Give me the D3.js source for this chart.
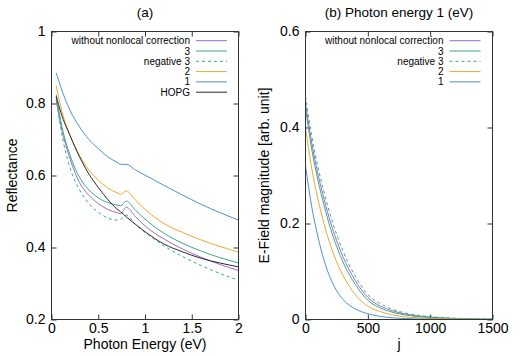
<!DOCTYPE html>
<html>
<head>
<meta charset="utf-8">
<script src="https://cdn.jsdelivr.net/npm/d3@7"></script>
<style>
  body { margin: 0; background: #fff; }
  svg { font-family: "Liberation Sans", Arial, Helvetica, sans-serif; }
  .tick text { font-size: 14px; fill: #000; }
  .tick line { stroke: #333; }
  .axis-label { font-size: 14px; fill: #000; }
  .title { font-size: 13.5px; fill: #000; }
  .legend text { font-size: 10px; fill: #000; }
</style>
</head>
<body>
<svg width="521" height="356"></svg>
<script>
// panel (a): reflectance vs photon energy
const energy = [0.05, 0.1, 0.2, 0.3, 0.4, 0.5, 0.6, 0.7, 0.74, 0.8, 0.9, 1.0, 1.2, 1.4, 1.6, 1.8, 2.0];
const reflWithout = [0.81, 0.74, 0.645, 0.58, 0.545, 0.522, 0.506, 0.497, 0.494, 0.512, 0.485, 0.46, 0.424, 0.396, 0.373, 0.353, 0.336];
const reflPos3 = [0.825, 0.75, 0.655, 0.595, 0.56, 0.538, 0.525, 0.518, 0.516, 0.529, 0.503, 0.479, 0.44, 0.412, 0.39, 0.372, 0.357];
const reflNeg3 = [0.818, 0.73, 0.62, 0.56, 0.522, 0.498, 0.482, 0.476, 0.478, 0.49, 0.463, 0.442, 0.405, 0.375, 0.35, 0.328, 0.309];
const refl2 = [0.85, 0.79, 0.71, 0.655, 0.615, 0.587, 0.566, 0.552, 0.548, 0.557, 0.531, 0.506, 0.467, 0.442, 0.421, 0.403, 0.387];
const refl1 = [0.885, 0.845, 0.78, 0.735, 0.70, 0.675, 0.652, 0.637, 0.631, 0.631, 0.615, 0.601, 0.573, 0.546, 0.52, 0.497, 0.476];
const reflHOPG = [0.82, 0.775, 0.71, 0.652, 0.604, 0.567, 0.534, 0.507, 0.499, 0.485, 0.464, 0.444, 0.41, 0.388, 0.37, 0.357, 0.346];

// panel (b): field magnitude vs j
const jIndex = [0, 50, 100, 150, 200, 250, 300, 400, 500, 600, 700, 800, 900, 1000, 1100, 1200, 1300, 1400, 1500];
const fieldWithout = [0.45, 0.368, 0.303, 0.25, 0.203, 0.164, 0.131, 0.081, 0.046, 0.028, 0.018, 0.0115, 0.0075, 0.005, 0.0033, 0.0022, 0.0014, 0.0009, 0.0006];
const fieldPos3 = [0.44, 0.355, 0.29, 0.237, 0.19, 0.152, 0.12, 0.073, 0.04, 0.024, 0.015, 0.0095, 0.006, 0.004, 0.0026, 0.0017, 0.0011, 0.0007, 0.0005];
const fieldNeg3 = [0.465, 0.382, 0.318, 0.264, 0.217, 0.177, 0.143, 0.09, 0.052, 0.033, 0.021, 0.0135, 0.009, 0.006, 0.004, 0.0027, 0.0018, 0.0012, 0.0008];
const field2 = [0.40, 0.315, 0.25, 0.198, 0.155, 0.12, 0.092, 0.052, 0.028, 0.0165, 0.0095, 0.0056, 0.0035, 0.0022, 0.0014, 0.0009, 0.0006, 0.0004, 0.0003];
const field1 = [0.32, 0.235, 0.172, 0.122, 0.086, 0.06, 0.042, 0.022, 0.012, 0.0065, 0.0035, 0.002, 0.0011, 0.0006, 0.0003, 0.0002, 0.0001, 0.0001, 0];

const ticksA_x = [0, 0.5, 1, 1.5, 2];
const ticksA_y = [0.2, 0.4, 0.6, 0.8, 1];
const ticksB_x = [0, 500, 1000, 1500];
const ticksB_y = [0, 0.2, 0.4, 0.6];

// line styles by legend label
const styles = {
  'without nonlocal correction': { color: '#9a6bcf', dash: null },
  '3': { color: '#3aa886', dash: null },
  'negative 3': { color: '#3aa886', dash: '3,3' },
  '2': { color: '#efa733', dash: null },
  '1': { color: '#4a92cf', dash: null },
  'HOPG': { color: '#2a2a2a', dash: null }
};

const svg = d3.select('svg');

const renderPanel = p => {
  const xScale = d3.scaleLinear().domain(p.xDomain).range([p.left, p.right]);
  const yScale = d3.scaleLinear().domain(p.yDomain).range([p.bottom, p.top]);
  const g = svg.append('g');

  const tick = 5;
  const xAxisG = g.append('g')
    .attr('transform', `translate(0,${p.bottom})`)
    .call(d3.axisBottom(xScale).tickValues(p.xTicks).tickFormat(d => String(d))
      .tickSizeInner(-tick).tickSizeOuter(0).tickPadding(4));
  const xTopG = g.append('g')
    .attr('transform', `translate(0,${p.top})`)
    .call(d3.axisTop(xScale).tickValues(p.xTicks).tickFormat('')
      .tickSizeInner(-tick).tickSizeOuter(0));
  const yAxisG = g.append('g')
    .attr('transform', `translate(${p.left},0)`)
    .call(d3.axisLeft(yScale).tickValues(p.yTicks).tickFormat(d => String(d))
      .tickSizeInner(-tick).tickSizeOuter(0).tickPadding(6));
  const yRightG = g.append('g')
    .attr('transform', `translate(${p.right},0)`)
    .call(d3.axisRight(yScale).tickValues(p.yTicks).tickFormat('')
      .tickSizeInner(-tick).tickSizeOuter(0));
  [xAxisG, xTopG, yAxisG, yRightG].forEach(a => {
    a.select('.domain').remove();
    a.selectAll('text').attr('font-family', null).attr('font-size', null);
  });

  const line = xs => d3.line()
    .x((d, i) => xScale(xs[i]))
    .y(d => yScale(d))
    .curve(d3.curveMonotoneX);

  p.series.forEach(s => {
    const st = styles[s.label];
    g.append('path')
      .datum(s.values)
      .attr('fill', 'none')
      .attr('stroke', st.color)
      .attr('stroke-width', 1)
      .attr('stroke-dasharray', st.dash)
      .attr('d', line(p.xs));
  });

  g.append('rect')
    .attr('x', p.left).attr('y', p.top)
    .attr('width', p.right - p.left).attr('height', p.bottom - p.top)
    .attr('fill', 'none').attr('stroke', '#333').attr('stroke-width', 1);

  // legend
  const leg = g.append('g').attr('class', 'legend');
  p.series.forEach((s, i) => {
    const st = styles[s.label];
    const y = 40.7 + i * 10.3;
    leg.append('text')
      .attr('x', p.legendX).attr('y', y + 3.5)
      .attr('text-anchor', 'end')
      .text(s.label);
    leg.append('line')
      .attr('x1', p.legendX + 6).attr('x2', p.legendX + 37)
      .attr('y1', y).attr('y2', y)
      .attr('stroke', st.color).attr('stroke-width', 1)
      .attr('stroke-dasharray', st.dash);
  });

  const cx = (p.left + p.right) / 2;
  g.append('text').attr('class', 'title')
    .attr('x', cx).attr('y', 17).attr('text-anchor', 'middle')
    .text(p.title);
  g.append('text').attr('class', 'axis-label')
    .attr('x', cx).attr('y', 349).attr('text-anchor', 'middle')
    .text(p.xLabel);
  g.append('text').attr('class', 'axis-label')
    .attr('transform', `translate(${p.yLabelX},${(p.top + p.bottom) / 2}) rotate(-90)`)
    .attr('text-anchor', 'middle')
    .text(p.yLabel);
};

renderPanel({
  left: 51.5, right: 238.5, top: 31.5, bottom: 319.5,
  xDomain: [0, 2], yDomain: [0.2, 1],
  xTicks: ticksA_x, yTicks: ticksA_y,
  xs: energy,
  series: [
    { label: 'without nonlocal correction', values: reflWithout },
    { label: '3', values: reflPos3 },
    { label: 'negative 3', values: reflNeg3 },
    { label: '2', values: refl2 },
    { label: '1', values: refl1 },
    { label: 'HOPG', values: reflHOPG }
  ],
  legendX: 190,
  title: '(a)', xLabel: 'Photon Energy (eV)', yLabel: 'Reflectance', yLabelX: 16.5
});

renderPanel({
  left: 305.5, right: 492.5, top: 31.5, bottom: 319.5,
  xDomain: [0, 1500], yDomain: [0, 0.6],
  xTicks: ticksB_x, yTicks: ticksB_y,
  xs: jIndex,
  series: [
    { label: 'without nonlocal correction', values: fieldWithout },
    { label: '3', values: fieldPos3 },
    { label: 'negative 3', values: fieldNeg3 },
    { label: '2', values: field2 },
    { label: '1', values: field1 }
  ],
  legendX: 443.5,
  title: '(b) Photon energy 1 (eV)', xLabel: 'j', yLabel: 'E-Field magnitude [arb. unit]', yLabelX: 269
});
</script>
</body>
</html>
